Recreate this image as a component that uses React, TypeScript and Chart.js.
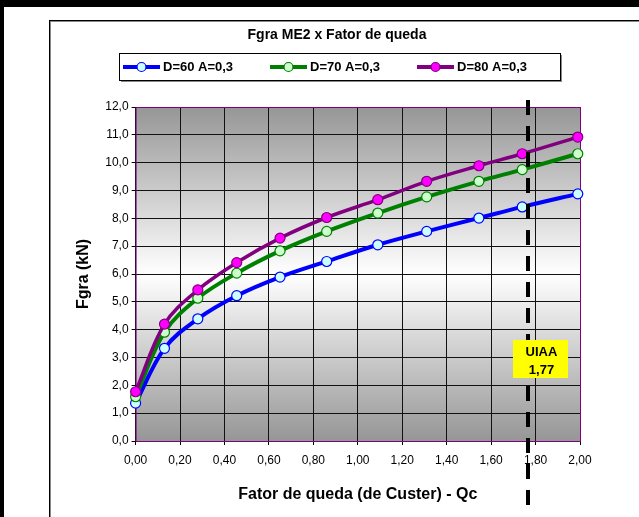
import React, { useEffect, useRef } from 'react';
import { Chart, registerables } from 'chart.js';

Chart.register(...registerables);

// ---- data ----
const X_VALUES = [0, 0.13, 0.28, 0.455, 0.65, 0.86, 1.09, 1.31, 1.545, 1.74, 1.99];
const D60 = [1.36, 3.33, 4.39, 5.22, 5.89, 6.45, 7.05, 7.53, 8.01, 8.41, 8.88];
const D70 = [1.59, 3.91, 5.13, 6.03, 6.83, 7.53, 8.19, 8.77, 9.33, 9.75, 10.32];
const D80 = [1.77, 4.2, 5.43, 6.41, 7.29, 8.03, 8.67, 9.33, 9.89, 10.32, 10.92];
const SERIES_LABELS = ['D=60 A=0,3', 'D=70 A=0,3', 'D=80 A=0,3'];
const LINE_COLORS = ['#0000ff', '#008000', '#800080'];
const FILL_COLORS = ['#ccffff', '#ccffcc', '#ff00ff'];
const TITLE = 'Fgra ME2 x Fator de queda';
const X_TITLE = 'Fator de queda (de Custer) - Qc';
const Y_TITLE = 'Fgra (kN)';
const UIAA_X = 1.765;
const UIAA_LABEL = ['UIAA', '1,77'];

const FONT = '"Liberation Sans", Arial, sans-serif';

const toPts = (ys: number[]) => ys.map((y, i) => ({ x: X_VALUES[i], y }));

const decor = {
  id: 'decor',
  beforeDraw(chart: any) {
    const { ctx, width, height, chartArea: a } = chart;
    ctx.save();
    ctx.fillStyle = '#fff';
    ctx.fillRect(0, 0, width, height);
    // outer black frame (top & left)
    ctx.fillStyle = '#000';
    ctx.fillRect(0, 0, width, 7);
    ctx.fillRect(0, 0, 4, height);
    // inner chart box
    ctx.fillStyle = '#888';
    ctx.fillRect(50, 21, width - 50, 1);
    ctx.fillRect(50, 21, 1, height - 21);
    ctx.fillStyle = '#000';
    ctx.fillRect(49, 20, width - 49, 1);
    ctx.fillRect(49, 20, 1, height - 20);
    // plot gradient
    const g = ctx.createLinearGradient(0, a.top, 0, a.bottom);
    g.addColorStop(0, '#969696');
    g.addColorStop(0.5, '#ffffff');
    g.addColorStop(1, '#969696');
    ctx.fillStyle = g;
    ctx.fillRect(a.left, a.top, a.right - a.left, a.bottom - a.top);
    ctx.restore();
  },
  beforeDatasetsDraw(chart: any) {
    const { ctx, chartArea: a } = chart;
    ctx.save();
    ctx.strokeStyle = '#800080';
    ctx.lineWidth = 1;
    ctx.strokeRect(a.left + 0.5, a.top + 0.5, a.right - a.left, a.bottom - a.top);
    ctx.restore();
  },
  afterDraw(chart: any) {
    const { ctx, scales } = chart;
    const xs = scales.x;
    ctx.save();
    // title
    ctx.fillStyle = '#000';
    ctx.font = `bold 14px ${FONT}`;
    ctx.textAlign = 'center';
    ctx.textBaseline = 'middle';
    ctx.fillText(TITLE, 337, 35);

    // legend
    const boxL = 119, boxT = 53, slot = 147, boxW = slot * 3, boxH = 27;
    ctx.fillStyle = '#fff';
    ctx.fillRect(boxL, boxT, boxW, boxH);
    ctx.strokeStyle = '#000';
    ctx.lineWidth = 1;
    ctx.strokeRect(boxL + 0.5, boxT + 0.5, boxW, boxH);
    ctx.fillStyle = '#888';
    ctx.fillRect(boxL + 2, boxT + boxH + 1, boxW, 1);
    ctx.fillRect(boxL + boxW + 1, boxT + 2, 1, boxH);
    const cy = boxT + boxH / 2 + 0.5;
    SERIES_LABELS.forEach((lab, i) => {
      const x0 = boxL + 4 + i * slot;
      ctx.strokeStyle = LINE_COLORS[i];
      ctx.lineWidth = 4;
      ctx.beginPath();
      ctx.moveTo(x0, cy);
      ctx.lineTo(x0 + 37, cy);
      ctx.stroke();
      ctx.beginPath();
      ctx.arc(x0 + 18.5, cy, 4.5, 0, Math.PI * 2);
      ctx.fillStyle = FILL_COLORS[i];
      ctx.fill();
      ctx.lineWidth = 1.2;
      ctx.stroke();
      ctx.fillStyle = '#000';
      ctx.font = `bold 13px ${FONT}`;
      ctx.textAlign = 'left';
      ctx.textBaseline = 'middle';
      ctx.fillText(lab, x0 + 40, cy);
    });

    // UIAA dashed line
    const px = Math.round(xs.getPixelForValue(UIAA_X));
    ctx.strokeStyle = '#000';
    ctx.lineWidth = 4;
    ctx.setLineDash([15, 11]);
    ctx.beginPath();
    ctx.moveTo(px, 100);
    ctx.lineTo(px, 507);
    ctx.stroke();
    ctx.setLineDash([]);

    // UIAA label
    const bl = px - 15, bt = 340, bw = 55, bh = 38;
    ctx.fillStyle = '#ffff00';
    ctx.fillRect(bl, bt, bw, bh);
    ctx.fillStyle = '#000';
    ctx.font = `bold 13px ${FONT}`;
    ctx.textAlign = 'center';
    ctx.textBaseline = 'middle';
    ctx.fillText(UIAA_LABEL[0], bl + bw / 2 + 1, bt + 12);
    ctx.fillText(UIAA_LABEL[1], bl + bw / 2 + 1, bt + 30);
    ctx.restore();
  },
};

export default function App() {
  const ref = useRef<HTMLCanvasElement | null>(null);
  useEffect(() => {
    if (!ref.current) return;
    const datasets = [D60, D70, D80].map((ys, i) => ({
      label: SERIES_LABELS[i],
      data: toPts(ys),
      borderColor: LINE_COLORS[i],
      backgroundColor: FILL_COLORS[i],
      pointBackgroundColor: FILL_COLORS[i],
      pointBorderColor: LINE_COLORS[i],
      pointBorderWidth: 1.2,
      pointRadius: 5,
      borderWidth: i === 2 ? 3.5 : 4,
      tension: 0.35,
      showLine: true,
      fill: false,
      clip: false,
      order: 3 - i,
    }));
    const chart = new Chart(ref.current, {
      type: 'scatter',
      data: { datasets },
      options: {
        animation: false,
        responsive: false,
        events: [],
        layout: { padding: { left: 74, top: 107, right: 59, bottom: 12.4 } },
        plugins: { legend: { display: false }, title: { display: false }, tooltip: { enabled: false } },
        scales: {
          x: {
            type: 'linear',
            min: 0,
            max: 2,
            ticks: {
              stepSize: 0.2,
              color: '#000',
              padding: 8,
              font: { family: FONT, size: 12 },
              callback: (v: any) => Number(v).toFixed(2).replace('.', ','),
            },
            grid: { color: '#111', tickColor: '#000', tickLength: 4, lineWidth: 1 },
            border: { display: false },
            title: {
              display: true,
              text: X_TITLE,
              color: '#000',
              font: { family: FONT, size: 16, weight: 'bold' },
              padding: { top: 0, bottom: 0 },
            },
            afterFit: (s: any) => { s.height = 63.6; },
          },
          y: {
            type: 'linear',
            min: 0,
            max: 12,
            ticks: {
              stepSize: 1,
              color: '#000',
              padding: 3,
              font: { family: FONT, size: 12 },
              callback: (v: any) => Number(v).toFixed(1).replace('.', ','),
            },
            grid: { color: '#111', tickColor: '#000', tickLength: 4, lineWidth: 1 },
            border: { display: false },
            title: {
              display: true,
              text: Y_TITLE,
              color: '#000',
              font: { family: FONT, size: 16, weight: 'bold' },
              padding: { top: 0, bottom: 0 },
            },
            afterFit: (s: any) => { s.width = 135.6 - 74; },
          },
        },
      },
      plugins: [decor],
    });
    return () => chart.destroy();
  }, []);
  return (
    <div style={{ position: 'absolute', left: 0, top: 0, width: 639, height: 517 }}>
      <canvas ref={ref} width={639} height={517} style={{ width: 639, height: 517, display: 'block' }} />
    </div>
  );
}
